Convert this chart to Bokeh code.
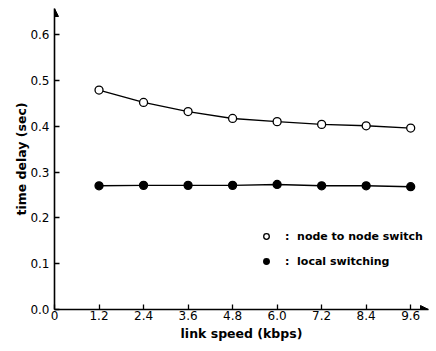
from bokeh.plotting import figure
from bokeh.models import FixedTicker, Legend, LegendItem, Arrow, NormalHead, Range1d
from bokeh.embed import file_html
from bokeh.resources import INLINE

# ---- data ----
link_speed = [1.2, 2.4, 3.6, 4.8, 6.0, 7.2, 8.4, 9.6]
node_to_node = [0.479, 0.452, 0.432, 0.417, 0.410, 0.404, 0.401, 0.396]
local_switching = [0.270, 0.271, 0.271, 0.271, 0.273, 0.270, 0.270, 0.268]

x_ticks = [0, 1.2, 2.4, 3.6, 4.8, 6.0, 7.2, 8.4, 9.6]
x_tick_labels = ["0", "1.2", "2.4", "3.6", "4.8", "6.0", "7.2", "8.4", "9.6"]
y_ticks = [0.0, 0.1, 0.2, 0.3, 0.4, 0.5, 0.6]
y_tick_labels = ["0.0", "0.1", "0.2", "0.3", "0.4", "0.5", "0.6"]

series_labels = [":  node to node switch", ":  local switching"]
x_title = "link speed (kbps)"
y_title = "time delay (sec)"

FONT = "DejaVu Sans"
X_MAX = 10.08
Y_MAX = 0.657

p = figure(width=436, height=351, output_backend="svg", toolbar_location=None,
           x_range=Range1d(0, X_MAX), y_range=Range1d(0, Y_MAX),
           min_border_left=54, min_border_right=8, min_border_top=8, min_border_bottom=42)
p.outline_line_color = None
p.xgrid.visible = False
p.ygrid.visible = False
p.background_fill_color = "white"

for ax in (p.xaxis[0], p.yaxis[0]):
    ax.axis_line_color = "black"
    ax.axis_line_width = 1.6
    ax.major_tick_in = 5
    ax.major_tick_out = 0
    ax.major_tick_line_width = 1.3
    ax.minor_tick_line_color = None
    ax.major_label_text_font = FONT
    ax.major_label_text_font_size = "12px"
    ax.major_label_text_color = "black"
    ax.axis_label_text_font = FONT
    ax.axis_label_text_font_size = "12.5px"
    ax.axis_label_text_font_style = "bold"
    ax.axis_label_text_color = "black"

p.xaxis[0].ticker = FixedTicker(ticks=x_ticks)
p.xaxis[0].major_label_overrides = {t: l for t, l in zip(x_ticks, x_tick_labels)}
p.xaxis[0].major_label_standoff = 1
p.xaxis[0].axis_label = x_title
p.xaxis[0].axis_label_standoff = 3

p.yaxis[0].ticker = FixedTicker(ticks=y_ticks)
p.yaxis[0].major_label_overrides = {t: l for t, l in zip(y_ticks, y_tick_labels)}
p.yaxis[0].major_label_standoff = 5
p.yaxis[0].axis_label = y_title
p.yaxis[0].axis_label_standoff = -2

# lines
p.line(link_speed, node_to_node, line_color="black", line_width=1.4)
p.line(link_speed, local_switching, line_color="black", line_width=1.4)
r_open = p.scatter(link_speed, node_to_node, marker="circle", size=8,
                   fill_color="white", line_color="black", line_width=1.3)
r_fill = p.scatter(link_speed, local_switching, marker="circle", size=8,
                   fill_color="black", line_color="black", line_width=1.3)

legend = Legend(items=[LegendItem(label=series_labels[0], renderers=[r_open]),
                       LegendItem(label=series_labels[1], renderers=[r_fill])],
                location=(205, 38), orientation="vertical",
                glyph_width=14, glyph_height=20, label_height=20, spacing=5,
                label_standoff=12, padding=0, margin=0,
                border_line_color=None, background_fill_alpha=0,
                label_text_font=FONT, label_text_font_size="11px",
                label_text_font_style="bold", label_text_color="black")
p.add_layout(legend, "center")

# axis arrow heads
p.add_layout(Arrow(end=NormalHead(size=8, fill_color="black", line_color="black"),
                   x_start=0, y_start=0, x_end=0, y_end=Y_MAX, line_alpha=0))
p.add_layout(Arrow(end=NormalHead(size=8, fill_color="black", line_color="black"),
                   x_start=0, y_start=0, x_end=X_MAX, y_end=0, line_alpha=0))

open("out.html", "w").write(file_html(p, INLINE))
